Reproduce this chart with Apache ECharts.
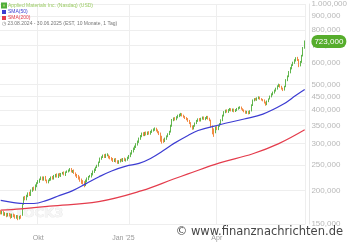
<!DOCTYPE html>
<html><head><meta charset="utf-8">
<script src="https://cdn.jsdelivr.net/npm/echarts@6/dist/echarts.min.js"></script>
<style>html,body{margin:0;padding:0;background:#fff}#c{width:350px;height:246px}</style>
</head><body><div id="c"></div>
<script>
const seriesName = 'Applied Materials Inc. (Nasdaq) (USD)';
const sma50Name = 'SMA(50)';
const sma200Name = 'SMA(200)';
const rangeText = '◷ 23.08.2024 - 30.06.2025 (EST, 10 Monate, 1 Tag)';
const startDate = '2024-08-23';
const endDate = '2025-06-30';
const holidays = ['2024-09-02','2024-11-28','2024-12-25','2025-01-01','2025-01-09','2025-01-20','2025-02-17','2025-04-18','2025-05-26','2025-06-19'];
const monthLabels = {'2024-10':'Okt','2025-01':"Jan '25",'2025-04':'Apr'};
const yTicks = [150,200,250,300,350,400,450,500,600,700,800,900,1000];

const opens = [
167,165,166,163,164,161,163,162,160,162,
161,159,160,158,160,162,178,189,185,190,
196,192,199,205,201,208,214,216,221,224,
220,225,218,215,219,220,225,221,226,230,
225,231,227,232,234,229,235,236,238,241,
235,238,232,229,227,224,220,217,215,210,
217,221,226,226,230,235,239,245,248,256,
263,267,271,267,271,271,268,265,263,
258,263,258,254,257,262,258,264,259,261,
265,269,275,280,286,291,297,304,312,319,
328,322,330,326,331,326,331,335,337,342,
337,332,328,319,311,306,312,319,325,331,
349,367,373,369,376,380,383,388,383,379,
375,372,366,359,349,341,349,357,364,371,
365,371,377,370,373,379,373,367,348,339,
330,346,339,349,354,367,381,393,399,394,
400,405,398,404,397,399,405,409,411,
404,401,397,391,396,389,398,417,435,441,
437,443,448,442,439,437,429,420,431,441,
450,458,465,473,481,493,498,491,483,477,
491,518,536,555,574,591,602,614,626,619,
590,606,641,684];
const closes = [
165,166,163,164,161,163,162,160,162,161,
159,160,158,160,159,176,188,186,191,195,
193,200,204,202,209,213,217,220,223,221,
224,219,216,218,221,224,222,227,229,226,
230,228,231,233,230,234,236,237,240,236,
237,233,228,226,223,219,216,214,212,218,
222,225,227,231,236,240,244,247,255,264,
266,270,268,272,273,267,264,262,259,
262,257,255,258,261,259,263,260,262,266,
270,276,281,287,292,298,305,313,320,327,
323,329,325,330,327,332,336,338,341,336,
331,327,318,310,307,313,320,326,332,350,
368,372,370,377,381,384,387,382,378,374,
371,365,358,348,342,350,358,365,370,366,
372,376,371,374,378,372,368,350,338,332,
345,340,350,355,368,382,394,398,395,401,
404,399,403,396,401,404,408,410,405,
400,396,392,395,390,397,418,436,440,438,
444,447,441,438,436,428,421,432,440,451,
459,466,474,482,492,497,490,482,478,490,
519,535,556,575,590,603,615,625,618,591,
605,640,685,723];
const highs = [
169,168,168,166,165,165,165,164,164,164,
163,162,162,161,162,178,190,191,193,197,
198,202,206,207,211,215,219,222,226,226,
226,227,220,220,223,226,227,229,231,232,
232,233,233,235,236,236,238,240,243,243,
239,240,234,231,229,226,222,219,217,220,
224,227,229,233,238,242,246,250,257,266,
269,273,274,275,276,273,270,267,265,
264,265,260,260,263,264,265,266,264,268,
272,278,284,290,295,301,308,316,323,330,
331,332,333,333,334,335,339,342,345,344,
339,334,330,321,313,316,322,328,335,353,
371,376,377,380,385,388,391,390,385,381,
377,374,368,361,351,352,360,368,373,374,
375,379,379,377,381,381,375,369,351,342,
348,349,352,358,370,385,397,402,403,404,
408,407,406,406,404,408,412,414,413,
407,403,399,398,398,400,421,439,444,445,
447,451,450,444,441,439,431,435,443,454,
463,470,478,486,496,503,501,494,486,494,
523,540,561,580,595,608,621,632,634,622,
612,645,690,730];
const lows = [
163,163,161,161,159,160,160,157,158,159,
157,157,155,156,157,161,177,184,184,189,
191,191,198,200,200,206,212,214,219,218,
218,217,213,213,217,218,220,220,224,224,
223,226,225,230,228,227,233,234,236,234,
233,231,226,223,220,216,212,211,206,208,
215,219,224,224,228,233,237,243,246,254,
261,265,265,265,269,264,262,259,256,
256,255,252,252,255,257,256,258,257,259,
263,267,273,278,284,289,295,302,310,317,
320,320,322,323,324,324,329,333,335,333,
328,323,305,300,302,304,310,317,323,330,
347,364,366,367,373,377,380,379,375,371,
367,362,355,345,338,339,347,355,362,363,
363,369,368,367,371,369,364,345,325,318,
328,337,337,347,352,364,379,390,392,391,
397,396,395,393,394,397,402,405,402,
397,393,388,388,386,387,396,415,432,435,
434,440,438,435,432,424,416,418,429,439,
447,455,462,470,478,489,486,478,472,474,
488,514,532,550,569,586,597,609,612,580,
584,602,636,680];

// [trading-day index, value]
const sma50 = [[0,184],[9,180.5],[16,179],[23,179],[32,184],[41,192],[50,200],[59,212],[68,225],[77,237],[87,247],[96,253],[104,264],[114,285],[120,300],[130,322],[137,336],[152,353],[169,371],[182,387],[196,421],[205,455],[211,478]];
const sma200 = [[0,169],[14,171],[34,175],[68,182],[98,200],[120,221],[130,231],[152,254],[175,275],[193,300],[211,338]];

function buildCategories(){
  const out = [];
  const d = new Date(startDate + 'T12:00:00Z');
  const end = new Date(endDate + 'T12:00:00Z');
  while (d <= end) {
    const wd = d.getUTCDay();
    const s = d.toISOString().slice(0,10);
    if (wd !== 0 && wd !== 6 && holidays.indexOf(s) < 0) out.push(s);
    d.setUTCDate(d.getUTCDate() + 1);
  }
  return out;
}
const categories = buildCategories();
const labelIdx = {};
categories.forEach((c,i)=>{
  const m = c.slice(0,7);
  if (monthLabels[m] && (i === 0 || categories[i-1].slice(0,7) !== m)) labelIdx[i] = monthLabels[m];
});
function de(v){
  const s = Math.round(v).toString().replace(/\B(?=(\d{3})+(?!\d))/g,'.');
  return s + ',000';
}
const candleData = categories.map((c,i)=>[opens[i],closes[i],lows[i],highs[i]]);
const UP = '#4fae3a', DOWN = '#f07d2e', BLUE = '#3c3cd2', RED = '#e43c4c';

const chart = echarts.init(document.getElementById('c'), null, {renderer:'canvas'});
chart.setOption({
  animation:false,
  backgroundColor:'#ffffff',
  grid:{left:-1, right:40, top:0, bottom:22, containLabel:false},
  legend:{orient:'vertical', left:1, top:2.5, padding:0, itemGap:1, itemWidth:4, itemHeight:4, icon:'rect', selectedMode:false,
    textStyle:{fontSize:5, padding:[0,0,0,-3]},
    data:[{name:seriesName, textStyle:{color:'#9ccc65'}, itemStyle:{color:'#9ccc65'}},
          {name:sma50Name, textStyle:{color:BLUE}},
          {name:sma200Name, textStyle:{color:RED}}]},
  title:{text:rangeText, left:2, top:21.5, padding:0, textStyle:{fontSize:5, color:'#777', fontWeight:'normal'}},
  xAxis:{type:'category', data:categories, boundaryGap:true,
    axisLine:{show:false}, axisTick:{show:false},
    axisLabel:{interval:(i)=>labelIdx[i]!==undefined, margin:11, fontSize:7, color:'#9a9a9a',
      formatter:(v,i)=>{const t=labelIdx[i]; if(t===undefined) return ''; return t.indexOf('Jan')===0?'{j|'+t+'}':t;},
      rich:{j:{fontSize:7, color:'#9a9a9a', padding:[0,14,0,0]}}},
    splitLine:{show:true, interval:(i)=>labelIdx[i]!==undefined, lineStyle:{color:'#eeeeee', width:1}}},
  yAxis:{type:'log', logBase:10, min:150, max:1000, position:'right', offset:4,
    axisLine:{show:true, lineStyle:{color:'#e8e8e8'}},
    axisTick:{show:false, customValues:yTicks},
    axisLabel:{customValues:yTicks, formatter:(v)=>de(v), fontSize:8, color:'#b8b8b8', margin:2, fontFamily:'Liberation Sans'},
    splitLine:{show:true, lineStyle:{color:'#eeeeee', width:1}}},
  graphic:[
    {type:'text', left:5, top:207, z:0, silent:true, style:{text:'STOCK3', font:'bold 13px "DejaVu Sans"', fill:'#f5f5f5', stroke:'#e2e2e2', lineWidth:0.6}},
    {type:'text', right:7, top:226, z:100, silent:true, style:{text:'© www.finanznachrichten.de', font:'11.5px "DejaVu Sans"', fill:'#454545'}}
  ],
  series:[
    {name:seriesName, type:'candlestick', data:candleData, barWidth:'80%',
      itemStyle:{color:UP, color0:DOWN, borderColor:UP, borderColor0:DOWN, borderWidth:0.9},
      markLine:{silent:true, symbol:'none', z:10,
        lineStyle:{color:'rgba(0,0,0,0)', width:0, type:'solid'},
        label:{show:true, position:'end', distance:6, formatter:(p)=>de(p.value), color:'#ffffff', fontSize:8, fontFamily:'Liberation Sans',
          backgroundColor:'#56ad2c', borderRadius:6, padding:[3,3,2,3], opacity:1},
        data:[{yAxis:closes[closes.length-1], label:{show:true}}]}},
    {name:sma50Name, type:'line', data:sma50, smooth:0.4, showSymbol:false, lineStyle:{color:BLUE, width:1.2}, itemStyle:{color:BLUE}, z:3},
    {name:sma200Name, type:'line', data:sma200, smooth:0.4, showSymbol:false, lineStyle:{color:RED, width:1.2}, itemStyle:{color:RED}, z:3}
  ]
});
</script></body></html>
